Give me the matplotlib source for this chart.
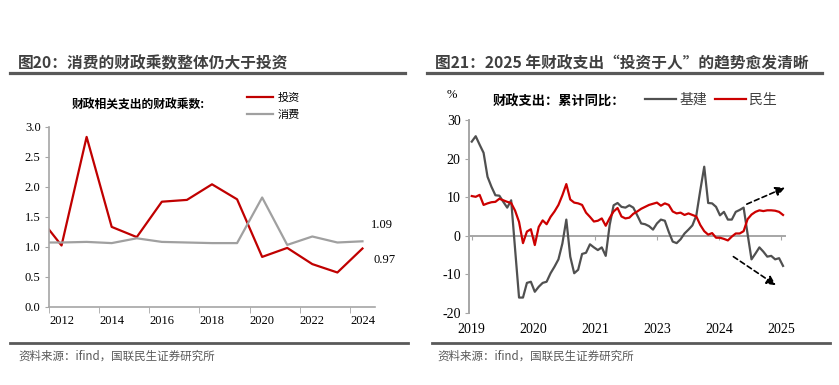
import matplotlib
matplotlib.use('Agg')
import matplotlib.pyplot as plt
from matplotlib.lines import Line2D

plt.rcParams['font.family'] = ['Liberation Serif', 'Noto Sans CJK SC']
CJK = ['Noto Sans CJK SC', 'DejaVu Sans']

# ---------------- data: left chart (fiscal multiplier) ----------------
years = [2011, 2012, 2013, 2014, 2015, 2016, 2017, 2018, 2019, 2020, 2021, 2022, 2023, 2024]
invest = [1.55, 1.02, 2.83, 1.33, 1.16, 1.75, 1.78, 2.04, 1.79, 0.83, 0.98, 0.71, 0.57, 0.97]
consume = [1.07, 1.07, 1.08, 1.06, 1.14, 1.08, 1.07, 1.06, 1.06, 1.82, 1.03, 1.17, 1.07, 1.09]
left_xlabels = [2012, 2014, 2016, 2018, 2020, 2022, 2024]
left_yticks = [0.0, 0.5, 1.0, 1.5, 2.0, 2.5, 3.0]

# ---------------- data: right chart (cumulative yoy, %) ----------------
infra = [24.4, 25.8, 23.6, 21.5, 15.3, 12.7, 10.5, 10.4, 8.8, 7.3,
         9.2, -3.5, -16.0, -16.0, -12.2, -11.9, -14.5, -13.2, -12.2, -11.9,
         -9.7, -8.0, -6.1, -2.0, 4.2, -5.4, -9.7, -8.8, -4.7, -4.4,
         -2.2, -3.0, -3.7, -3.0, -5.2, 2.8, 7.9, 8.5, 7.5, 7.3,
         7.9, 7.3, 5.3, 3.2, 3.0, 2.5, 1.6, 3.2, 4.2, 3.9,
         1.0, -1.5, -1.9, -0.9, 0.6, 1.6, 2.7, 5.3, 11.8, 17.9,
         8.5, 8.4, 7.5, 5.3, 6.2, 4.2, 4.2, 6.2, 6.7, 7.3,
         0.5, -6.1, -4.6, -3.0, -4.1, -5.4, -5.2, -6.1, -5.8, -7.8]
livelihood = [10.3, 10.1, 10.6, 8.0, 8.4, 8.7, 8.8, 9.6, 9.2, 8.8,
              8.5, 6.5, 3.6, -1.9, 1.1, 1.7, -2.4, 2.3, 4.0, 3.0,
              4.9, 6.3, 8.0, 10.5, 13.4, 9.4, 8.6, 8.4, 8.0, 6.0,
              4.9, 3.7, 3.9, 4.5, 2.6, 4.6, 6.3, 7.2, 5.0, 4.5,
              4.7, 5.7, 6.3, 7.0, 7.5, 8.0, 8.3, 8.6, 7.8, 8.4,
              8.0, 6.3, 5.8, 6.0, 5.4, 5.8, 5.4, 5.0, 2.8, 1.2,
              0.3, 0.7, -0.5, -0.5, -0.8, -1.2, -0.2, 0.6, 0.6, 1.2,
              4.3, 5.5, 6.2, 6.6, 6.4, 6.6, 6.6, 6.5, 6.2, 5.4]
right_xlabels = ['2019', '2020', '2021', '2023', '2024', '2025']
right_xtick_pos = [0.0, 15.7, 31.3, 47.0, 62.8, 78.6]
right_yticks = [-20, -10, 0, 10, 20, 30]

RED = '#c00000'
RED2 = '#cc0000'
GRAY_L = '#a0a0a0'
GRAY_D = '#505050'
AXC = '#a6a6a6'
HEAD = '#404040'

W, H = 839, 385
fig = plt.figure(figsize=(W / 100, H / 100), dpi=100)

def fx(px):
    return px / W

def fy(py):
    return 1 - py / H

# ---------------- header / footer decorations ----------------
fig.text(fx(18), fy(63), '图20：消费的财政乘数整体仍大于投资', family=CJK, fontsize=11.3,
         fontweight='bold', color=HEAD, va='center', ha='left')
fig.text(fx(435), fy(63), '图21：2025 年财政支出“投资于人”的趋势愈发清晰', family=CJK, fontsize=11.3,
         fontweight='bold', color=HEAD, va='center', ha='left')
for x0, x1 in [(10, 405), (427, 822)]:
    fig.add_artist(Line2D([fx(x0), fx(x1)], [fy(73), fy(73)], transform=fig.transFigure,
                          color='#595959', lw=2.3))
for x0, x1 in [(10, 408), (432, 830)]:
    fig.add_artist(Line2D([fx(x0), fx(x1)], [fy(343), fy(343)], transform=fig.transFigure,
                          color='#595959', lw=2.0))
for x0 in [18, 437]:
    fig.text(fx(x0), fy(356), '资料来源：ifind，国联民生证券研究所', family=CJK, fontsize=8.3,
             color='#595959', va='center', ha='left')

# ---------------- left chart ----------------
axL = fig.add_axes([fx(49), fy(306.7), fx(375) - fx(49), fy(126.7) - fy(306.7)])
axL.plot(years, invest, color=RED, lw=1.6, label='投资')
axL.plot(years, consume, color=GRAY_L, lw=1.6, label='消费')
axL.set_xlim(2011.5, 2024.5)
axL.set_ylim(0, 3.0)
axL.set_yticks(left_yticks)
axL.set_yticklabels([f'{v:.1f}' for v in left_yticks])
axL.set_xticks(left_xlabels)
axL.set_xticklabels([str(v) for v in left_xlabels])
axL.set_xticks([y - 0.5 for y in left_xlabels], minor=True)
axL.tick_params(axis='x', which='major', length=0, pad=6, labelsize=9, colors='black')
axL.tick_params(axis='x', which='minor', length=4, color=AXC, direction='out')
axL.tick_params(axis='y', length=3, color=AXC, labelsize=9, pad=3)
for s in ['top', 'right']:
    axL.spines[s].set_visible(False)
for s in ['left', 'bottom']:
    axL.spines[s].set_color(AXC)
    axL.spines[s].set_linewidth(1.2)
axL.annotate(f'{consume[-1]:.2f}', xy=(years[-1], consume[-1]), xytext=(6, 12),
             textcoords='offset points', fontsize=9, va='center', ha='left', annotation_clip=False)
axL.annotate(f'{invest[-1]:.2f}', xy=(years[-1], invest[-1]), xytext=(8, -8),
             textcoords='offset points', fontsize=9, va='center', ha='left', annotation_clip=False)
fig.text(fx(72), fy(105), '财政相关支出的财政乘数:', family=CJK, fontsize=8.5,
         fontweight='bold', va='center', ha='left')
legL = axL.legend(loc='upper left', bbox_to_anchor=(fx(247), fy(93)),
                  bbox_transform=fig.transFigure, frameon=False, borderpad=0, borderaxespad=0,
                  handlelength=2.3, handletextpad=0.45, labelspacing=0.6,
                  prop={'family': CJK, 'size': 8})

# ---------------- right chart ----------------
idx = list(range(len(infra)))
axR = fig.add_axes([fx(469), fy(313), fx(785) - fx(469), fy(120) - fy(313)])
axR.plot(idx, infra, color=GRAY_D, lw=1.6, label='基建')
axR.plot(idx, livelihood, color=RED2, lw=1.6, label='民生')
axR.set_xlim(-0.7, 79.5)
axR.set_ylim(-20, 30)
axR.set_yticks(right_yticks)
axR.set_yticklabels([str(v) for v in right_yticks])
axR.set_xticks(right_xtick_pos)
axR.set_xticklabels(right_xlabels)
axR.spines['bottom'].set_position(('data', 0))
axR.spines['bottom'].set_zorder(0)
for s in ['top', 'right']:
    axR.spines[s].set_visible(False)
for s in ['left', 'bottom']:
    axR.spines[s].set_color(AXC)
    axR.spines[s].set_linewidth(1.4)
axR.tick_params(axis='x', length=3, color=AXC, direction='out', pad=60, labelsize=10)
axR.tick_params(axis='y', length=3, color=AXC, labelsize=10, pad=3)
axR.annotate('', xy=(79.5, 12.5), xytext=(69.8, 8.2),
             arrowprops=dict(arrowstyle='-|>', color='black', lw=1.2, linestyle=(0, (3, 2)),
                             mutation_scale=14, shrinkA=0, shrinkB=0), annotation_clip=False)
axR.annotate('', xy=(77.2, -12.8), xytext=(66.4, -5.4),
             arrowprops=dict(arrowstyle='-|>', color='black', lw=1.2, linestyle=(0, (3, 2)),
                             mutation_scale=14, shrinkA=0, shrinkB=0), annotation_clip=False)
fig.text(fx(452), fy(95), '%', fontsize=9, va='center', ha='center')
fig.text(fx(493), fy(102), '财政支出：累计同比：', family=CJK, fontsize=9.5,
         fontweight='bold', va='center', ha='left')
legR = axR.legend(loc='upper left', bbox_to_anchor=(fx(645), fy(93)),
                  bbox_transform=fig.transFigure, frameon=False, borderpad=0, borderaxespad=0,
                  ncol=2, handlelength=2.2, handletextpad=0.25, columnspacing=0.6,
                  prop={'family': CJK, 'size': 10})
for t in legR.get_texts():
    t.set_color('#404040')

fig.savefig('out.png', dpi=100)
